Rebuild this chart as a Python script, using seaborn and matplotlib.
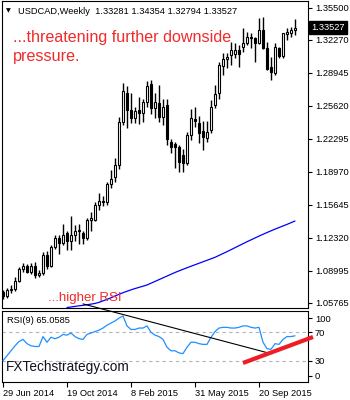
import matplotlib
matplotlib.use("Agg")
import matplotlib.pyplot as plt
import seaborn as sns

# ---------------- data ----------------
bar_index = list(range(74))  # weekly bars, 29 Jun 2014 ... 22 Nov 2015

opens = [
    1.0690, 1.0650, 1.0705, 1.0720, 1.0800, 1.0915, 1.0950, 1.0890, 1.0950, 1.0860,
    1.0880, 1.1060, 1.0950, 1.1140, 1.1235, 1.1180, 1.1280, 1.1200, 1.1260, 1.1300,
    1.1285, 1.1230, 1.1410, 1.1412, 1.1565, 1.1600, 1.1590, 1.1780, 1.1845, 1.1965,
    1.2400, 1.2695, 1.2520, 1.2440, 1.2520, 1.2490, 1.2600, 1.2780, 1.2540, 1.2590,
    1.2450, 1.2570, 1.2200, 1.2180, 1.2150, 1.2070, 1.1990, 1.2270, 1.2430, 1.2390,
    1.2310, 1.2240, 1.2320, 1.2570, 1.2690, 1.2960, 1.3035, 1.3075, 1.3085, 1.3125,
    1.3155, 1.3195, 1.3255, 1.3250, 1.3195, 1.3330, 1.3145, 1.2955, 1.2895, 1.3145,
    1.3065, 1.3290, 1.3295, 1.33281]
highs = [
    1.0705, 1.0725, 1.0760, 1.0840, 1.0935, 1.0975, 1.0965, 1.0980, 1.0990, 1.0905,
    1.1090, 1.1095, 1.1160, 1.1260, 1.1265, 1.1370, 1.1300, 1.1455, 1.1360, 1.1370,
    1.1300, 1.1430, 1.1490, 1.1590, 1.1680, 1.1650, 1.1800, 1.1920, 1.2035, 1.2450,
    1.2795, 1.2765, 1.2690, 1.2550, 1.2655, 1.2635, 1.2815, 1.2825, 1.2690, 1.2775,
    1.2630, 1.2630, 1.2230, 1.2200, 1.2170, 1.2130, 1.2300, 1.2530, 1.2550, 1.2460,
    1.2410, 1.2410, 1.2620, 1.2775, 1.3005, 1.3095, 1.3095, 1.3205, 1.3195, 1.3175,
    1.3350, 1.3305, 1.3295, 1.3260, 1.3445, 1.3460, 1.3205, 1.3055, 1.3195, 1.3155,
    1.3300, 1.3348, 1.3358, 1.34354]
lows = [
    1.0615, 1.0625, 1.0680, 1.0700, 1.0785, 1.0890, 1.0880, 1.0870, 1.0830, 1.0840,
    1.0860, 1.0920, 1.0935, 1.1120, 1.1070, 1.1160, 1.1110, 1.1110, 1.1200, 1.1170,
    1.1170, 1.1215, 1.1300, 1.1400, 1.1510, 1.1550, 1.1560, 1.1730, 1.1800, 1.1925,
    1.2370, 1.2340, 1.2390, 1.2390, 1.2380, 1.2400, 1.2550, 1.2480, 1.2440, 1.2400,
    1.2370, 1.2170, 1.2090, 1.1935, 1.1895, 1.1895, 1.1965, 1.2220, 1.2350, 1.2190,
    1.2120, 1.2200, 1.2290, 1.2540, 1.2630, 1.2875, 1.2945, 1.2975, 1.3045, 1.2955,
    1.3105, 1.3175, 1.3145, 1.3005, 1.3185, 1.3140, 1.2925, 1.2825, 1.2875, 1.3045,
    1.3045, 1.3227, 1.3258, 1.32794]
closes = [
    1.0650, 1.0705, 1.0720, 1.0800, 1.0915, 1.0950, 1.0890, 1.0950, 1.0860, 1.0880,
    1.1060, 1.0950, 1.1140, 1.1235, 1.1180, 1.1260, 1.1200, 1.1260, 1.1300, 1.1310,
    1.1230, 1.1410, 1.1430, 1.1565, 1.1600, 1.1590, 1.1780, 1.1830, 1.1965, 1.2400,
    1.2710, 1.2520, 1.2440, 1.2510, 1.2490, 1.2600, 1.2765, 1.2540, 1.2600, 1.2450,
    1.2550, 1.2230, 1.2150, 1.2150, 1.1995, 1.1990, 1.2270, 1.2440, 1.2410, 1.2290,
    1.2250, 1.2300, 1.2550, 1.2680, 1.2975, 1.3035, 1.3055, 1.3125, 1.3125, 1.3085,
    1.3195, 1.3255, 1.3250, 1.3200, 1.3330, 1.3145, 1.2935, 1.2905, 1.3155, 1.3065,
    1.3297, 1.3305, 1.3325, 1.33527]

ma_index = list(range(16, 74))
ma_values = [
    1.0530, 1.0535, 1.0541, 1.0547, 1.0552, 1.0558, 1.0564, 1.0571, 1.0582, 1.0597,
    1.0612, 1.0628, 1.0646, 1.0663, 1.0679, 1.0694, 1.0708, 1.0721, 1.0733, 1.0745,
    1.0757, 1.0775, 1.0793, 1.0811, 1.0829, 1.0847, 1.0865, 1.0883, 1.0899, 1.0915,
    1.0931, 1.0946, 1.0961, 1.0976, 1.0991, 1.1006, 1.1021, 1.1036, 1.1055, 1.1074,
    1.1093, 1.1113, 1.1133, 1.1153, 1.1173, 1.1193, 1.1212, 1.1231, 1.1250, 1.1268,
    1.1286, 1.1303, 1.1320, 1.1336, 1.1352, 1.1368, 1.1385, 1.1402]

rsi_values = [
    30, 37, 44, 51, 57, 60, 54, 51, 50, 50,
    64, 56, 63, 61, 63, 67, 66, 69, 64, 61,
    60, 67, 69, 71, 73, 76, 80, 83, 86, 90,
    93, 79, 74, 74, 76, 76, 79, 70, 66, 64,
    60, 49, 44, 44, 41, 40, 49, 56, 56, 54,
    53, 53, 63, 71, 76, 77, 77, 76, 76, 77,
    79, 79, 77, 76, 77, 56, 47, 46, 54, 53,
    60, 64, 64, 65.06]

price_ticks = [1.35500, 1.32270, 1.28945, 1.25620, 1.22295, 1.18970,
               1.15645, 1.12320, 1.08995, 1.05765]
last_price = 1.33527
rsi_tick_labels = ["100", "70", "30", "0"]
rsi_levels = [70, 30]
date_tick_index = [0, 16, 32, 48, 64]
date_tick_labels = ["29 Jun 2014", "19 Oct 2014", "8 Feb 2015", "31 May 2015", "20 Sep 2015"]

trend_x, trend_y = [20, 66.25], [110, 41]     # black hand-drawn trendline
red_x, red_y = [60, 77.5], [26.8, 63.4]       # red rising RSI support line

title_text = "USDCAD,Weekly  1.33281 1.34354 1.32794 1.33527"
note_top = ["...threatening further downside", "pressure."]
note_rsi = "...higher RSI"

# ---------------- styling ----------------
sns.set_style("white")
plt.rcParams["font.family"] = ["Liberation Sans", "DejaVu Sans"]

W, H = 350, 400
fig = plt.figure(figsize=(W / 100, H / 100), dpi=100)
fig.patch.set_facecolor("white")


def rect(x0, y0, x1, y1):
    return [x0 / W, 1 - y1 / H, (x1 - x0) / W, (y1 - y0) / H]


def fx(x):
    return x / W


def fy(y):
    return 1 - y / H


ax = fig.add_axes(rect(2, 1, 308, 308))
ax2 = fig.add_axes(rect(2, 311, 308, 382))

small = 6.7
RED = "#ef2b2b"

# ---------------- main price panel ----------------
ax.vlines(bar_index, lows, highs, color="black", linewidth=1.0, zorder=2)
body_bottom = [min(o, c) for o, c in zip(opens, closes)]
body_height = [max(abs(c - o), 0.0006) for o, c in zip(opens, closes)]
body_color = ["white" if c >= o else "black" for o, c in zip(opens, closes)]
ax.bar(bar_index, body_height, bottom=body_bottom, width=0.62, color=body_color,
       edgecolor="black", linewidth=0.8, zorder=3)

sns.lineplot(x=ma_index, y=ma_values, ax=ax, color="#0000ff", linewidth=0.9, zorder=4)

ax.set_xlim(-0.25, 76.25)
ax.set_ylim(1.0525, 1.3620)
ax.set_xticks([])
ax.set_yticks(price_ticks)
ax.set_yticklabels([f"{v:.5f}" for v in price_ticks])
ax.yaxis.tick_right()
ax.tick_params(axis="y", which="both", right=True, left=False, length=3, width=0.8,
               pad=2, labelsize=small, colors="black", direction="out")
ax.set_xlabel("")
ax.set_ylabel("")
for s in ax.spines.values():
    s.set_visible(True)
    s.set_color("black")
    s.set_linewidth(0.8)

ax.text(1.0105, last_price, "1.33527", transform=ax.get_yaxis_transform(),
        ha="left", va="center", fontsize=small, color="white",
        bbox=dict(boxstyle="square,pad=0.25", facecolor="black", edgecolor="black"),
        zorder=10, clip_on=False)

# ---------------- RSI panel ----------------
sns.lineplot(x=bar_index, y=rsi_values, ax=ax2, color="#1e90ff", linewidth=0.9, zorder=3)
for lv in rsi_levels:
    ax2.axhline(lv, color="#b4b4b4", linewidth=0.8, linestyle=(0, (3, 3)), zorder=1)
ax2.set_xlim(-0.25, 76.25)
ax2.set_ylim(0, 100)
ax2.set_yticks([90, 70, 30, 8.5])
ax2.set_yticklabels(rsi_tick_labels)
ax2.yaxis.tick_right()
ax2.tick_params(axis="y", right=True, left=False, length=3, width=0.8, pad=2,
                labelsize=small, colors="black", direction="out")
ax2.set_xticks(date_tick_index)
ax2.set_xticklabels(date_tick_labels)
ax2.tick_params(axis="x", bottom=True, length=3.5, width=0.8, pad=1.5,
                labelsize=small, colors="black", direction="out")
for lbl in ax2.get_xticklabels():
    lbl.set_horizontalalignment("left")
ax2.set_xlabel("")
ax2.set_ylabel("")
for s in ax2.spines.values():
    s.set_visible(True)
    s.set_color("black")
    s.set_linewidth(0.8)

ax2.plot(trend_x, trend_y, color="black", linewidth=0.8, clip_on=False, zorder=6)
ax2.plot(red_x, red_y, color="#ee1c24", linewidth=3.0, clip_on=False,
         solid_capstyle="butt", zorder=7)

# ---------------- texts ----------------
fig.text(fx(6), fy(11), "\u25bc", fontsize=4.5, family="DejaVu Sans", color="black",
         ha="left", va="center")
fig.text(fx(18), fy(14), title_text, fontsize=small, color="black", ha="left",
         va="baseline")
fig.text(fx(13), fy(42), note_top[0], fontsize=11.6, color=RED, ha="left", va="baseline")
fig.text(fx(13), fy(61), note_top[1], fontsize=11.6, color=RED, ha="left", va="baseline")
fig.text(fx(48), fy(301), note_rsi, fontsize=9.5, color=RED, ha="left", va="baseline")
fig.text(fx(7), fy(323), "RSI(9) 65.0585", fontsize=small, color="black", ha="left",
         va="baseline")
fig.text(fx(6), fy(371), "FXTechstrategy.com", fontsize=9.8, color="#111122",
         ha="left", va="baseline", zorder=8)

fig.savefig("out.png", dpi=100, facecolor="white")
